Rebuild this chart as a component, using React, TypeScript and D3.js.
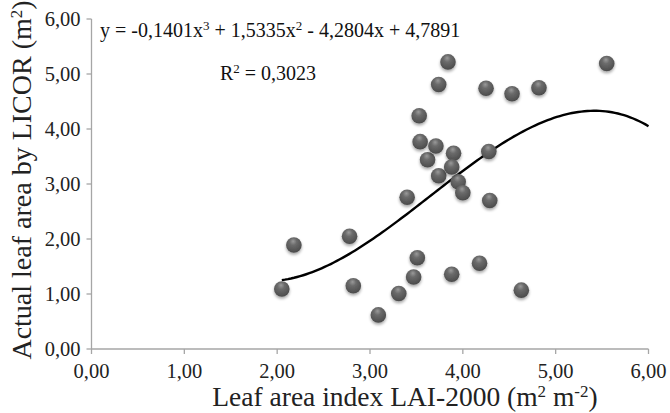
import React from "react";
import * as d3 from "d3";

const laiValues = [2.05, 2.18, 2.78, 2.82, 3.09, 3.31, 3.47, 3.51, 3.88, 4.18, 4.63, 3.40, 4.29, 3.74, 3.95, 4.00, 3.62, 3.54, 3.71, 3.90, 3.88, 4.28, 3.53, 3.74, 3.84, 4.25, 4.53, 4.82, 5.55];
const licorValues = [1.09, 1.89, 2.05, 1.15, 0.62, 1.01, 1.31, 1.66, 1.36, 1.56, 1.07, 2.76, 2.70, 3.15, 3.04, 2.84, 3.44, 3.77, 3.69, 3.56, 3.31, 3.59, 4.24, 4.81, 5.22, 4.74, 4.64, 4.75, 5.19];
const coeffs = [-0.1401, 1.5335, -4.2804, 4.7891];
const xTicks = [0, 1, 2, 3, 4, 5, 6];
const yTicks = [0, 1, 2, 3, 4, 5, 6];
const fitRange = [2.05, 6.0];

const W = 670, H = 413;
const margin = { left: 91.5, right: 21.5, top: 19, bottom: 64 };

export default function App() {
  const x = d3.scaleLinear().domain([0, 6]).range([margin.left, W - margin.right]);
  const y = d3.scaleLinear().domain([0, 6]).range([H - margin.bottom, margin.top]);
  const fmt = (v: number) => v.toFixed(2).replace(".", ",");
  const poly = (v: number) => coeffs[0] * v ** 3 + coeffs[1] * v ** 2 + coeffs[2] * v + coeffs[3];
  const n = 120;
  const curvePts = d3.range(n + 1).map((i) => fitRange[0] + (fitRange[1] - fitRange[0]) * (i / n));
  const line = d3.line<number>().x((v) => x(v)).y((v) => y(poly(v))).curve(d3.curveLinear);
  const font = "Liberation Serif";
  const axisColor = "#a6a6a6";
  const pts = laiValues.map((v, i) => ({ x: v, y: licorValues[i] }));
  return (
    <svg width={W} height={H} style={{ position: "absolute", left: 0, top: 0, background: "#fff", fontFamily: "'Liberation Serif', serif" }}>
      <defs>
        <radialGradient id="ball" cx="45%" cy="35%" r="65%" fx="45%" fy="25%">
          <stop offset="0%" stopColor="#9a9a9a" />
          <stop offset="35%" stopColor="#6b6b6b" />
          <stop offset="80%" stopColor="#555555" />
          <stop offset="100%" stopColor="#4a4a4a" />
        </radialGradient>
        <filter id="shadow" x="-50%" y="-50%" width="200%" height="200%">
          <feGaussianBlur in="SourceAlpha" stdDeviation="1.5" />
          <feOffset dx="0" dy="2" result="b" />
          <feComponentTransfer><feFuncA type="linear" slope="0.35" /></feComponentTransfer>
          <feMerge><feMergeNode /><feMergeNode in="SourceGraphic" /></feMerge>
        </filter>
      </defs>
      <line x1={x(0)} x2={x(6)} y1={y(0)} y2={y(0)} stroke={axisColor} strokeWidth={1.3} />
      <line x1={x(0)} x2={x(0)} y1={y(0)} y2={y(6)} stroke={axisColor} strokeWidth={1.3} />
      {xTicks.map((t) => (
        <g key={"x" + t}>
          <line x1={x(t)} x2={x(t)} y1={y(0)} y2={y(0) + 5} stroke={axisColor} strokeWidth={1.3} />
          <text x={x(t)} y={y(0) + 29} fontFamily={font} fontSize={20.5} textAnchor="middle" fill="#222">{fmt(t)}</text>
        </g>
      ))}
      {yTicks.map((t) => (
        <g key={"y" + t}>
          <line x1={x(0) - 5} x2={x(0)} y1={y(t)} y2={y(t)} stroke={axisColor} strokeWidth={1.3} />
          <text x={x(0) - 11} y={y(t) + 7} fontFamily={font} fontSize={20.5} textAnchor="end" fill="#222">{fmt(t)}</text>
        </g>
      ))}
      <path d={line(curvePts) || ""} fill="none" stroke="#000" strokeWidth={2.4} />
      {pts.map((p, i) => (
        <circle key={i} cx={x(p.x)} cy={y(p.y)} r={7.8} fill="url(#ball)" filter="url(#shadow)" />
      ))}
      <text x={100} y={37} fontFamily={font} fontSize={20} fill="#111">
        y = -0,1401x<tspan baselineShift="super" fontSize={13}>3</tspan> + 1,5335x<tspan baselineShift="super" fontSize={13}>2</tspan> - 4,2804x + 4,7891
      </text>
      <text x={220} y={80} fontFamily={font} fontSize={20} fill="#111">
        R<tspan baselineShift="super" fontSize={13}>2</tspan> = 0,3023
      </text>
      <text x={(205 + 605) / 2} y={406} fontFamily={font} fontSize={27.5} textAnchor="middle" fill="#222">
        Leaf area index LAI-2000 (m<tspan baselineShift="super" fontSize={17}>2</tspan> m<tspan baselineShift="super" fontSize={17}>-2</tspan>)
      </text>
      <text transform={`translate(31, ${(5 + 355) / 2}) rotate(-90)`} fontFamily={font} fontSize={28} textAnchor="middle" fill="#222">
        Actual leaf area by LICOR (m<tspan baselineShift="super" fontSize={17}>2</tspan>)
      </text>
    </svg>
  );
}
